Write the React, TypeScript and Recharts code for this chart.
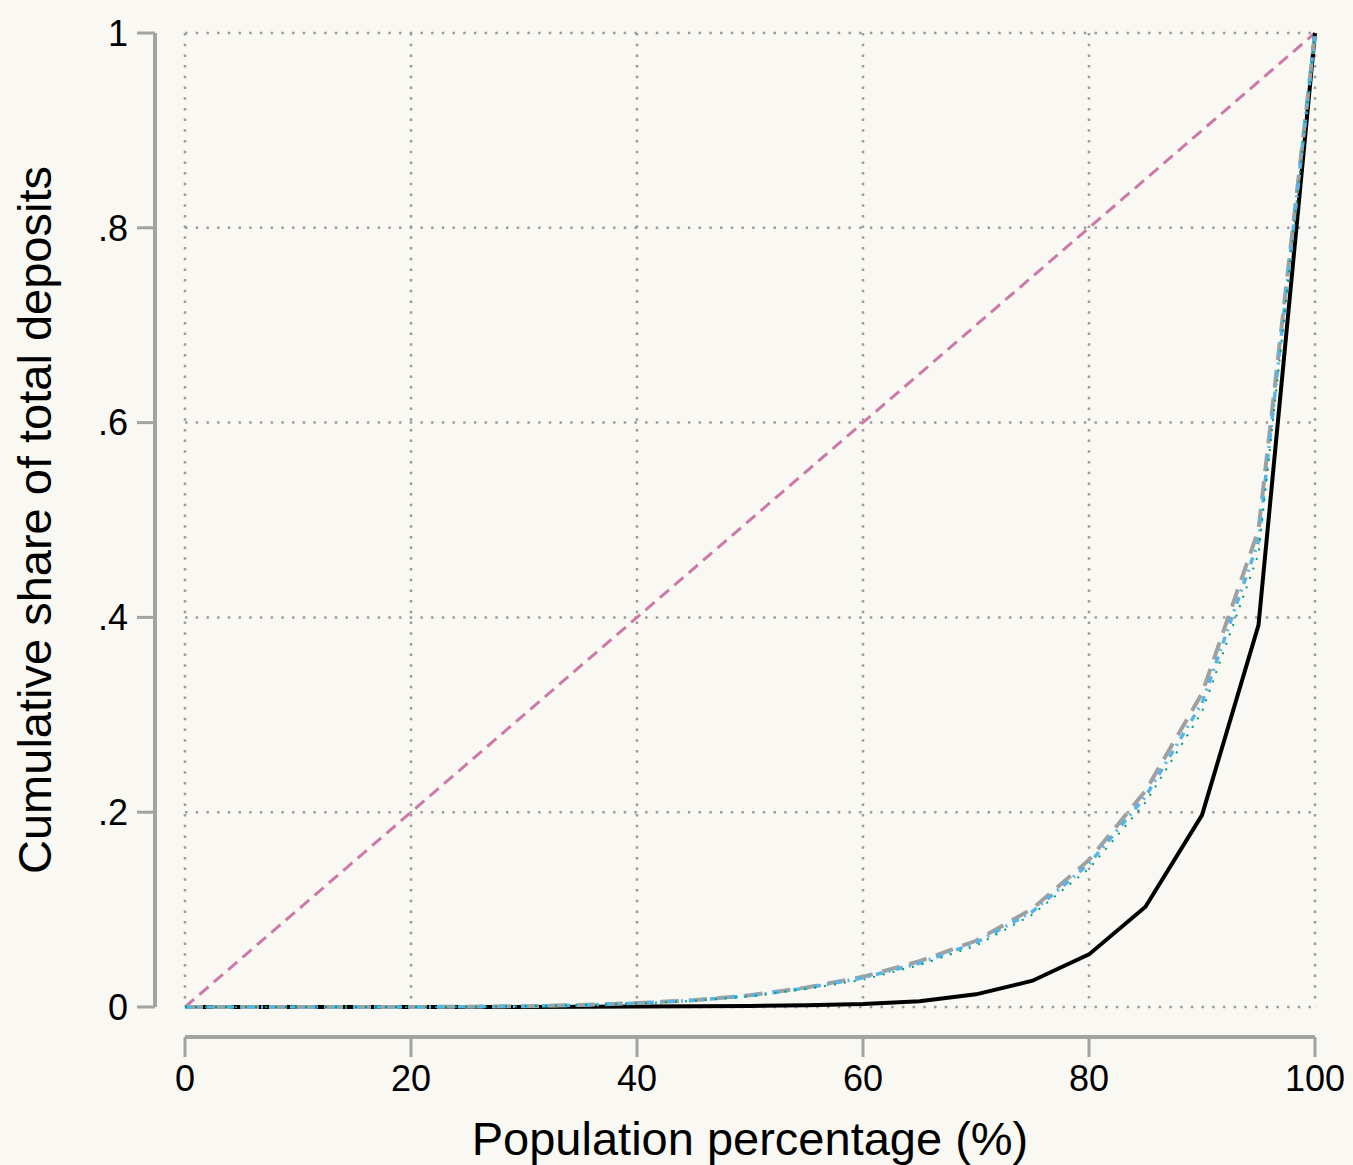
import React from 'react';
import { LineChart, Line, XAxis, YAxis, CartesianGrid } from 'recharts';

const xValues = [0, 5, 10, 15, 20, 25, 30, 35, 40, 45, 50, 55, 60, 65, 70, 75, 80, 85, 90, 95, 100];
const blackSeries = [0, 0, 0, 0, 0, 0, 0, 0.0002, 0.0004, 0.0007, 0.001, 0.0018, 0.003, 0.006, 0.013, 0.027, 0.054, 0.103, 0.197, 0.392, 1];
const graySeries = [0, 0, 0, 0, 0, 0.0003, 0.0008, 0.002, 0.004, 0.007, 0.012, 0.02, 0.031, 0.047, 0.068, 0.101, 0.151, 0.222, 0.322, 0.49, 1];
const blueSeries = [0, 0, 0, 0, 0, 0.0003, 0.0008, 0.002, 0.004, 0.0068, 0.0115, 0.0195, 0.030, 0.045, 0.066, 0.098, 0.147, 0.216, 0.312, 0.478, 1];
const greenSeries = [0, 0, 0, 0, 0, 0.0002, 0.0007, 0.0018, 0.0036, 0.0063, 0.011, 0.0185, 0.028, 0.043, 0.063, 0.095, 0.142, 0.21, 0.303, 0.465, 1];
const equalityX = [0, 100];
const equalityY = [0, 1];

const xTicks = [0, 20, 40, 60, 80, 100];
const yTicks = [0, 0.2, 0.4, 0.6, 0.8, 1];
const yTickLabels = ['0', '.2', '.4', '.6', '.8', '1'];

const xTitle = 'Population percentage (%)';
const yTitle = 'Cumulative share of total deposits';

const toRows = (ys: number[]) => xValues.map((x, i) => ({ x, y: ys[i] }));
const blackData = toRows(blackSeries);
const grayData = toRows(graySeries);
const blueData = toRows(blueSeries);
const greenData = toRows(greenSeries);
const equalityData = equalityX.map((x, i) => ({ x, y: equalityY[i] }));

const BG = '#f9f8f2';
const AXIS = '#a3a3a3';
const FONT = '"Liberation Sans", Arial, sans-serif';

export default function App() {
  const tickStyle = { fontSize: 36, fill: '#000', fontFamily: FONT };
  return (
    <div style={{ position: 'absolute', left: 0, top: 0, width: 1353, height: 1165, background: BG, overflow: 'hidden' }}>
      <style>{`
        .recharts-xAxis { transform: translate(0px, 30px); }
        .recharts-yAxis { transform: translate(-30px, 0px); }
      `}</style>
      <LineChart
        width={1353}
        height={1165}
        margin={{ top: 33, right: 38, bottom: 98, left: 85 }}
        style={{ background: BG }}
      >
        <CartesianGrid stroke="#9c9c9c" strokeWidth={2.5} strokeDasharray="2.5 8.2" />
        <XAxis
          type="number"
          dataKey="x"
          domain={[0, 100]}
          ticks={xTicks}
          height={60}
          tickSize={20}
          tickMargin={38}
          axisLine={{ stroke: AXIS, strokeWidth: 4 }}
          tickLine={{ stroke: AXIS, strokeWidth: 3 }}
          tick={tickStyle}
          interval={0}
          allowDuplicatedCategory={false}
        />
        <YAxis
          type="number"
          dataKey="y"
          domain={[0, 1]}
          ticks={yTicks}
          width={100}
          tickSize={18}
          tickMargin={39}
          axisLine={{ stroke: AXIS, strokeWidth: 4 }}
          tickLine={{ stroke: AXIS, strokeWidth: 3 }}
          tick={tickStyle}
          interval={0}
          tickFormatter={(v: number) => yTickLabels[yTicks.findIndex((t) => Math.abs(t - v) < 1e-9)] ?? String(v)}
        />
        <Line data={equalityData} dataKey="y" type="linear" stroke="#cc79a7" strokeWidth={3} strokeDasharray="12 7" dot={false} isAnimationActive={false} />
        <Line data={blackData} dataKey="y" type="linear" stroke="#000000" strokeWidth={4} dot={false} isAnimationActive={false} />
        <Line data={grayData} dataKey="y" type="linear" stroke="#a0a0a0" strokeWidth={4} strokeDasharray="18 10" dot={false} isAnimationActive={false} />
        <Line data={blueData} dataKey="y" type="linear" stroke="#56b4e9" strokeWidth={3.5} strokeDasharray="7 6 2 6" dot={false} isAnimationActive={false} />
        <Line data={greenData} dataKey="y" type="linear" stroke="#009e73" strokeWidth={2} strokeDasharray="2 8" dot={false} isAnimationActive={false} />
      </LineChart>
      <div
        style={{
          position: 'absolute',
          left: 750,
          top: 1115,
          transform: 'translateX(-50%)',
          fontFamily: FONT,
          fontSize: 47,
          lineHeight: '47px',
          whiteSpace: 'nowrap',
          color: '#000',
        }}
      >
        {xTitle}
      </div>
      <div
        style={{
          position: 'absolute',
          left: 34,
          top: 520,
          transform: 'translate(-50%, -50%) rotate(-90deg)',
          fontFamily: FONT,
          fontSize: 47,
          lineHeight: '47px',
          whiteSpace: 'nowrap',
          color: '#000',
        }}
      >
        {yTitle}
      </div>
    </div>
  );
}
